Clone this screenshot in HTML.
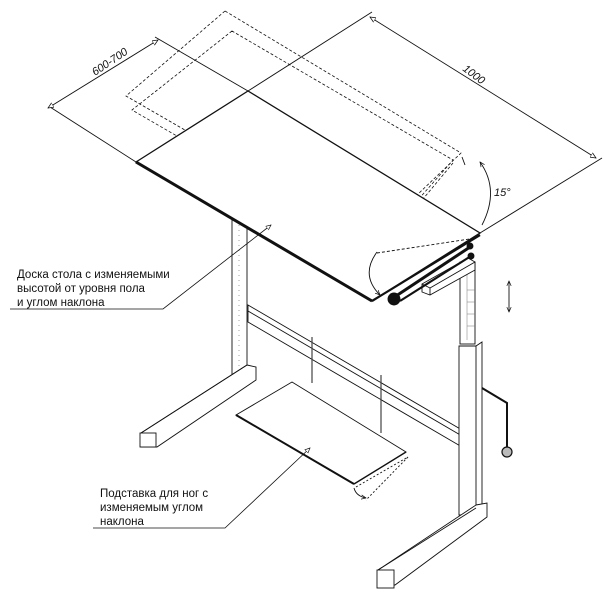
<!DOCTYPE html>
<html><head><meta charset="utf-8"><style>
html,body{margin:0;padding:0;background:#fff;}
svg{display:block;}
text{font-family:"Liberation Sans",sans-serif;fill:#111;}
</style></head><body>
<svg width="604" height="598" viewBox="0 0 604 598" xmlns="http://www.w3.org/2000/svg">
<defs>
<marker id="ar" viewBox="0 0 10 10" refX="9" refY="5" markerWidth="6" markerHeight="6" orient="auto-start-reverse"><path d="M0,1 L9,5 L0,9" fill="none" stroke="#111" stroke-width="1.3"/></marker>
<marker id="tri" viewBox="0 0 10 10" refX="9" refY="5" markerWidth="7" markerHeight="7" orient="auto-start-reverse"><path d="M0,1 L9,5 L0,9 Z" fill="#fff" stroke="#111" stroke-width="1.2"/></marker>
</defs>
<g stroke="#111" fill="none" stroke-width="0.9">
<g stroke-dasharray="3,2" stroke-width="0.8">
<polygon points="225,11 126,96 372,238 461,153"/>
<polygon points="232,31 132,110 374,250 453,160"/>
<line x1="453" y1="163" x2="378" y2="253"/>
<line x1="377" y1="250" x2="476" y2="238"/>
</g>
<line x1="50" y1="107" x2="136" y2="162"/>
<line x1="155" y1="37" x2="248" y2="91"/>
<line x1="48" y1="108" x2="158" y2="40" marker-start="url(#tri)" marker-end="url(#tri)"/>
<line x1="248" y1="91" x2="372" y2="12"/>
<line x1="480" y1="233" x2="602" y2="158"/>
<line x1="370" y1="17" x2="596" y2="158" marker-start="url(#tri)" marker-end="url(#tri)"/>
<path d="M482,225 Q500,190 480,162" marker-end="url(#ar)"/>
<path d="M465,165 L462,157" />
<rect x="232" y="210" width="15" height="170" fill="#fff"/>
<line x1="239" y1="215" x2="239" y2="370" stroke-dasharray="1,4" stroke="#999"/>
<polygon points="247,365 256,367 256,380 157,447 141,447 141,433" fill="#fff"/>
<line x1="141" y1="433" x2="247" y2="365"/>
<rect x="140" y="433" width="16" height="14" fill="#fff"/>
<polygon points="248,305 462,430 462,447 248,322" fill="#fff"/>
<line x1="248" y1="311" x2="462" y2="436"/>
<line x1="312" y1="337" x2="312" y2="383" stroke-width="1.2" stroke="#444"/>
<line x1="381" y1="375" x2="381" y2="433" stroke-width="1.2" stroke="#444"/>
<polygon points="236,415 292,382 406,452 354,484" fill="#fff"/>
<line x1="236" y1="415" x2="354" y2="484" stroke-width="2"/>
<line x1="354" y1="484" x2="406" y2="452" stroke-width="1.4"/>
<path d="M356,487 L408,457 L366,500" stroke-dasharray="2,2"/>
<path d="M354,488 Q356,496 366,498" marker-end="url(#ar)"/>
<rect x="460" y="262" width="15" height="82" fill="#fff"/>
<g stroke-width="0.5" stroke="#777"><line x1="467" y1="268" x2="467" y2="340"/><line x1="467" y1="290" x2="475" y2="290"/><line x1="467" y1="302" x2="475" y2="302"/><line x1="467" y1="314" x2="475" y2="314"/><line x1="467" y1="326" x2="475" y2="326"/></g>
<polygon points="459,346 476,346 482,342 482,510 476,515 459,515" fill="#fff"/>
<line x1="476" y1="346" x2="476" y2="515"/>
<polygon points="476,505 487,503 487,517 395,585 378,585 378,570" fill="#fff"/>
<line x1="378" y1="570" x2="476" y2="508"/>
<rect x="377" y="570" width="17" height="18" fill="#fff"/>
<path d="M482,388 L507,403 L507,447" stroke-width="2"/>
<circle cx="507" cy="452" r="5" fill="#bbb" stroke-width="1.2"/>
<polygon points="422,284 468,258 475,262 475,270 430,295 422,292" fill="#fff"/>
<line x1="422" y1="284" x2="430" y2="288"/><line x1="430" y1="288" x2="475" y2="262"/><line x1="430" y1="288" x2="430" y2="295"/>
<polygon points="136,162 248,91 480,233 372,301" fill="#fff" stroke-width="1.3"/>
<line x1="136" y1="162" x2="372" y2="301" stroke-width="3"/>
<line x1="372" y1="301" x2="480" y2="235" stroke-width="2.2"/>
<path d="M377,252 Q360,275 380,295" marker-end="url(#ar)"/>
<line x1="377" y1="253" x2="476" y2="238" stroke-dasharray="3,2"/>
<line x1="393" y1="298" x2="470" y2="247" stroke-width="3"/>
<line x1="400" y1="301" x2="471" y2="256" stroke-width="2.2"/>
<circle cx="470" cy="246" r="3" fill="#111"/>
<circle cx="471" cy="256" r="3" fill="#111"/>
<circle cx="394" cy="299" r="6" fill="#111"/>
<line x1="509" y1="281" x2="509" y2="312" marker-start="url(#ar)" marker-end="url(#ar)"/>
<polyline points="271,225 163,309 10,309" stroke-width="0.8" marker-start="url(#tri)"/>
<polyline points="310,448 225,528 93,528" stroke-width="0.8" marker-start="url(#tri)"/>
</g>
<text x="95" y="76" font-size="11" transform="rotate(-34 95 76)" font-style="italic">600-700</text>
<text x="462" y="70" font-size="11" transform="rotate(37 462 70)" font-style="italic">1000</text>
<text x="494" y="196" font-size="11" font-style="italic">15°</text>
<g font-size="11.5">
<text x="17" y="278">Доска стола с изменяемыми</text>
<text x="17" y="292">высотой от уровня пола</text>
<text x="17" y="306">и углом наклона</text>
<text x="100" y="497">Подставка для ног с</text>
<text x="100" y="511">изменяемым углом</text>
<text x="100" y="525">наклона</text>
</g>
</svg>
</body></html>
